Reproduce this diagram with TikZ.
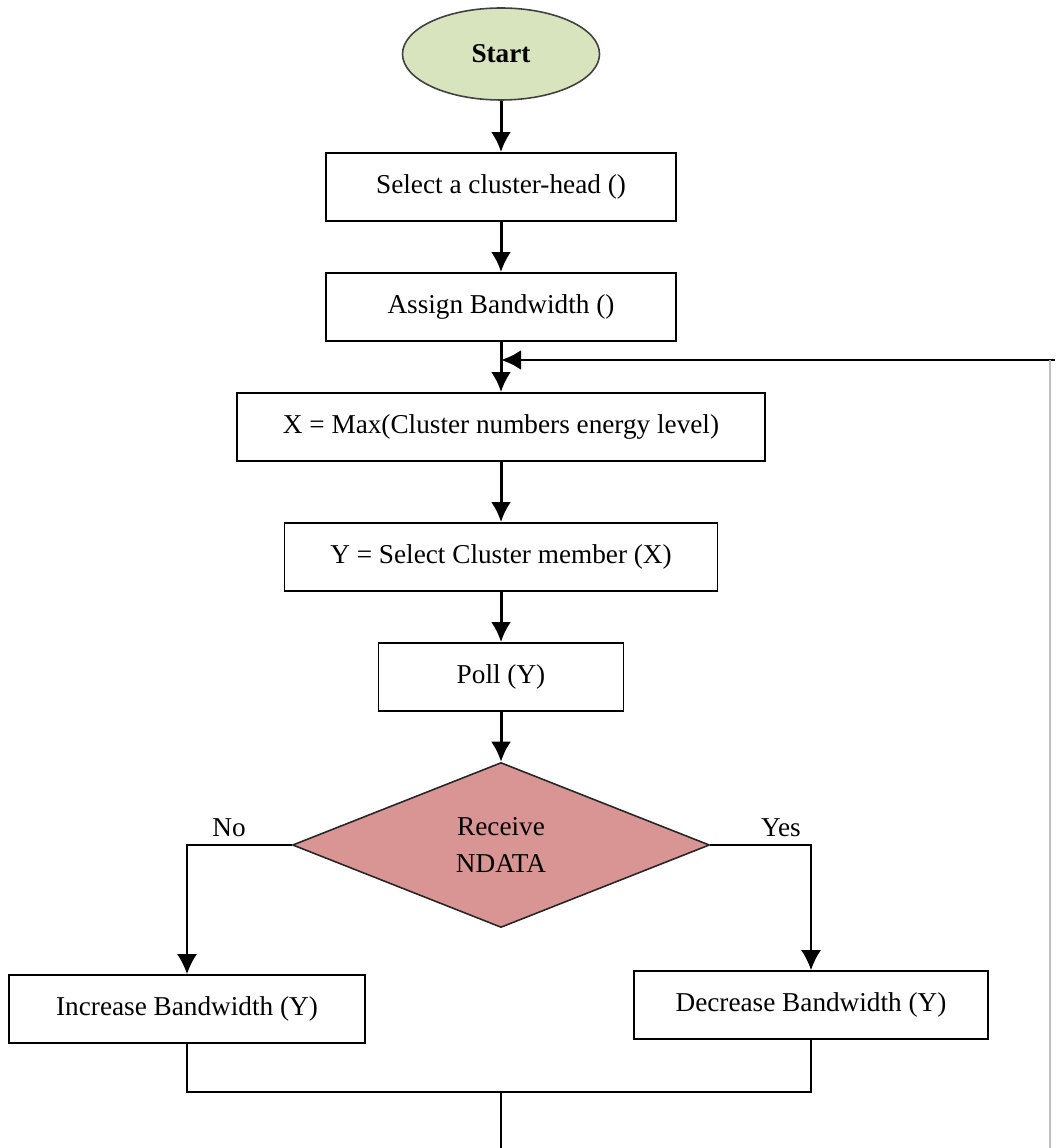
\documentclass[tikz,border=0pt]{standalone}
\usepackage{fontspec}
\setmainfont{Liberation Serif}
\usetikzlibrary{shapes.geometric,arrows.meta}
\definecolor{startgreen}{RGB}{216,228,189}
\definecolor{recvred}{RGB}{217,149,148}
\tikzset{
  procbox/.style={draw,line width=1.1pt,fill=white,inner sep=0pt,minimum height=13.6mm},
  flow/.style={line width=1.7pt,->},
  link/.style={line width=0.8pt}
}

\begin{document}
\begin{tikzpicture}[x=0.2mm,y=-0.2mm,>={Latex[length=4mm,width=4mm]},font=\fontsize{15.5}{20.5}\selectfont]
  \useasboundingbox (0,0) rectangle (1055,1148);
  \node[ellipse,draw=black!75,line width=0.9pt,fill=startgreen,minimum width=39.4mm,minimum height=18.4mm,inner sep=0pt,font=\fontsize{15.5}{20.5}\selectfont\bfseries] (start) at (501,54) {Start};
  \node[procbox,minimum width=70mm] (head) at (501,187) {Select a cluster-head ()};
  \node[procbox,minimum width=70mm] (assign) at (501,307) {Assign Bandwidth ()};
  \node[procbox,minimum width=105.6mm] (maxx) at (501,427) {X = Max(Cluster numbers energy level)};
  \node[procbox,minimum width=86.6mm] (member) at (501,557) {Y = Select Cluster member (X)};
  \node[procbox,minimum width=49mm] (poll) at (501,677) {Poll (Y)};
  \node[diamond,draw=black!85,line width=0.9pt,fill=recvred,aspect=2.5,minimum width=83.4mm,minimum height=33mm,inner sep=0pt,align=center] (recv) at (501,845) {Receive\\NDATA};
  \node[procbox,minimum width=71.2mm] (inc) at (187,1009) {Increase Bandwidth (Y)};
  \node[procbox,minimum width=70.8mm] (dec) at (811,1005) {Decrease Bandwidth (Y)};
  \node (no) at (229,828) {No};
  \node (yes) at (781,828) {Yes};
  \coordinate (loopR) at (1055,360);
  \coordinate (loopT) at (1050,360);
  \coordinate (loopB) at (1050,1148);
  \coordinate (merge) at (501,1092);
  \coordinate (outlet) at (501,1148);
  \draw[flow] (start) -- (head);
  \draw[flow] (head) -- (assign);
  \draw[flow] (assign) -- (maxx);
  \draw[flow] (loopR) -- (assign.south |- loopR);
  \draw[link,black!25] (loopT) -- (loopB);
  \draw[flow] (maxx) -- (member);
  \draw[flow] (member) -- (poll);
  \draw[flow] (poll) -- (recv);
  \draw[link,->] (recv.west) -| (inc.north);
  \draw[link,->] (recv.east) -| (dec.north);
  \draw[link] (inc.south) |- (merge) -| (dec.south);
  \draw[link] (merge) -- (outlet);
\end{tikzpicture}
\end{document}
